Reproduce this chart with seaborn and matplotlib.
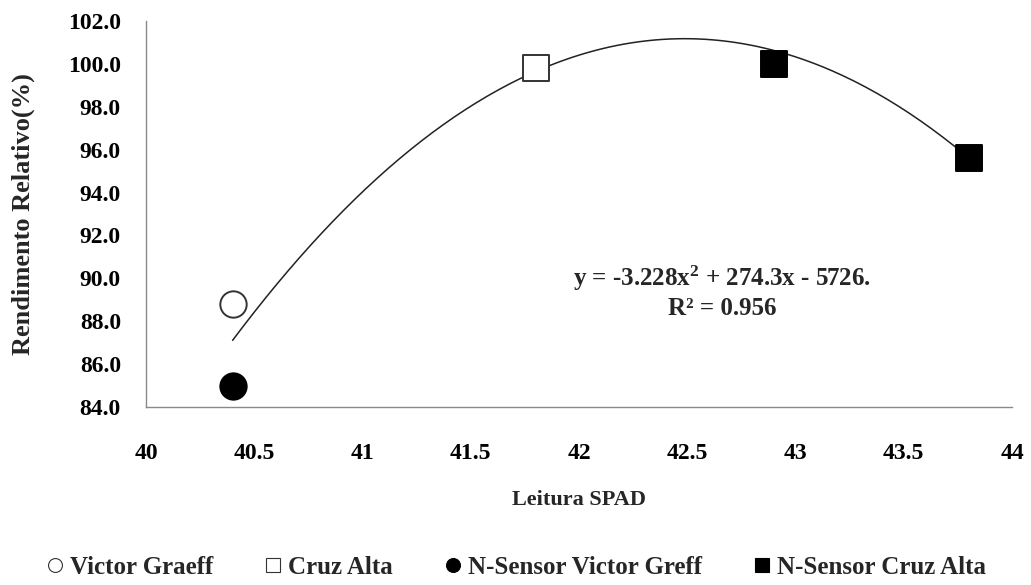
import numpy as np
import pandas as pd
import matplotlib
matplotlib.use("Agg")
import matplotlib.pyplot as plt
import seaborn as sns
from matplotlib.lines import Line2D

# Relative yield vs. SPAD reading, per site / method
series = ["Victor Graeff", "Cruz Alta", "N-Sensor Victor Greff", "N-Sensor Cruz Alta"]
spad = [[40.4], [41.8], [40.4], [42.9, 43.8]]
rendimento = [[88.8], [99.8], [85.0], [100.0, 95.6]]

# Quadratic trend: y = a*x^2 + b*x + c, fitted over the SPAD range
coef = [-3.228, 274.3, -5726.0]
fit_range = [40.4, 43.8]
equation = "y = -3.228x$^{2}$ + 274.3x - 5726."
r2_text = "R² = 0.956"

x_ticks = [40, 40.5, 41, 41.5, 42, 42.5, 43, 43.5, 44]
y_ticks = [84, 86, 88, 90, 92, 94, 96, 98, 100, 102]

sns.set_theme(style="white")
plt.rcParams["font.family"] = ["Liberation Serif", "DejaVu Serif"]
plt.rcParams["font.weight"] = "bold"
plt.rcParams["mathtext.fontset"] = "custom"
plt.rcParams["mathtext.rm"] = "Liberation Serif:bold"
plt.rcParams["mathtext.it"] = "Liberation Serif:bold"
plt.rcParams["mathtext.bf"] = "Liberation Serif:bold"

fig = plt.figure(figsize=(10.31, 5.85), dpi=100)
ax = fig.add_axes([0.1416, 0.3043, 0.840, 0.6598])

styles = {
    "Victor Graeff": dict(marker="o", facecolor="white", edgecolor="#333333"),
    "Cruz Alta": dict(marker="s", facecolor="white", edgecolor="#333333"),
    "N-Sensor Victor Greff": dict(marker="o", facecolor="black", edgecolor="black"),
    "N-Sensor Cruz Alta": dict(marker="s", facecolor="black", edgecolor="black"),
}

# Trend curve
xs = np.linspace(fit_range[0], fit_range[1], 200)
ys = np.polyval(coef, xs)
sns.lineplot(x=xs, y=ys, ax=ax, color="#222222", linewidth=1.1, zorder=2)

for name, xv, yv in zip(series, spad, rendimento):
    st = styles[name]
    df = pd.DataFrame({"x": xv, "y": yv})
    sns.scatterplot(data=df, x="x", y="y", ax=ax, marker=st["marker"],
                    s=360 if st["marker"] == "o" else 330,
                    facecolor=st["facecolor"], edgecolor=st["edgecolor"],
                    linewidth=1.4, zorder=3)

ax.set_xlim(40, 44)
ax.set_ylim(84, 102)
ax.set_xticks(x_ticks)
ax.set_xticklabels([f"{t:g}" for t in x_ticks])
ax.set_yticks(y_ticks)
ax.set_yticklabels([f"{t:.1f}" for t in y_ticks])

for side in ["top", "right"]:
    ax.spines[side].set_visible(False)
for side in ["left", "bottom"]:
    ax.spines[side].set_color("#8a8a8a")
    ax.spines[side].set_linewidth(1.0)

ax.tick_params(axis="both", which="major", labelsize=17, colors="black",
               direction="out", length=6, width=1.0, color="#8a8a8a")
ax.tick_params(axis="x", pad=20)
ax.tick_params(axis="y", pad=12)
for lab in ax.get_xticklabels() + ax.get_yticklabels():
    lab.set_fontweight("bold")

ax.set_xlabel("Leitura SPAD", fontsize=16, fontweight="bold", labelpad=19)
ax.set_ylabel("Rendimento Relativo(%)", fontsize=19, fontweight="bold", labelpad=24)

ax.text(42.66, 90.0, equation, ha="center", va="center", fontsize=18, fontweight="bold")
ax.text(42.66, 88.6, r2_text, ha="center", va="center", fontsize=18, fontweight="bold")

handles = []
for name in series:
    st = styles[name]
    handles.append(Line2D([], [], linestyle="none", marker=st["marker"], markersize=10,
                          markerfacecolor=st["facecolor"], markeredgecolor=st["edgecolor"],
                          markeredgewidth=0.8, label=name))
fig.legend(handles=handles, loc="center", bbox_to_anchor=(0.5, 1 - 567 / 585),
           ncol=4, frameon=False, handlelength=0.8, handletextpad=0.2,
           columnspacing=2.0, prop={"weight": "bold", "size": 18})

fig.savefig("out.png", dpi=100)
